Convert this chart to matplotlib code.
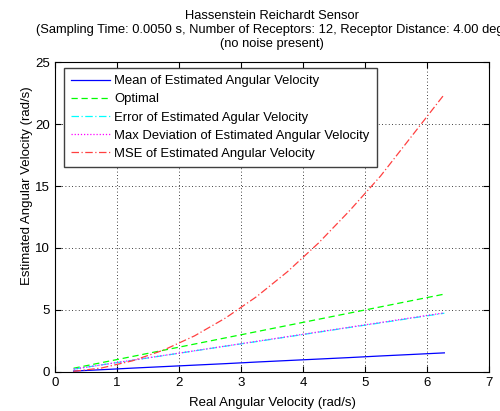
import matplotlib

matplotlib.use("Agg")
import matplotlib.pyplot as plt

# values
real_vel = [0.3, 0.75, 1.25, 1.75, 2.25, 2.75, 3.25, 3.75, 4.25, 4.75, 5.25, 5.75, 6.28]
mean_est = [0.07, 0.18, 0.31, 0.43, 0.55, 0.67, 0.80, 0.92, 1.04, 1.16, 1.29, 1.41, 1.54]
optimal = [0.3, 0.75, 1.25, 1.75, 2.25, 2.75, 3.25, 3.75, 4.25, 4.75, 5.25, 5.75, 6.28]
error_est = [0.23, 0.57, 0.94, 1.32, 1.70, 2.08, 2.45, 2.83, 3.21, 3.59, 3.96, 4.34, 4.74]
max_dev = [0.23, 0.57, 0.95, 1.33, 1.71, 2.09, 2.47, 2.85, 3.23, 3.61, 3.99, 4.37, 4.77]
mse_est = [0.05, 0.32, 0.90, 1.76, 2.91, 4.35, 6.07, 8.09, 10.4, 13.0, 15.8, 19.0, 22.4]

labels = [
    "Mean of Estimated Angular Velocity",
    "Optimal",
    "Error of Estimated Agular Velocity",
    "Max Deviation of Estimated Angular Velocity",
    "MSE of Estimated Angular Velocity",
]

plt.rcParams["font.family"] = ["Liberation Sans", "DejaVu Sans"]
plt.rcParams["font.size"] = 9

fig = plt.figure(figsize=(5.0, 4.11), dpi=100)
ax = fig.add_axes([0.11, 0.095, 0.868, 0.754])

ax.plot(real_vel, mean_est, color="#0000ff", lw=0.9, ls="-", label=labels[0])
ax.plot(real_vel, optimal, color="#00ff00", lw=0.9, ls=(0, (5, 3)), label=labels[1])
ax.plot(real_vel, error_est, color="#00ffff", lw=0.9, ls=(0, (6, 2, 1, 2)), label=labels[2])
ax.plot(real_vel, max_dev, color="#ff00ff", lw=0.9, ls=(0, (1, 1.5)), label=labels[3])
ax.plot(real_vel, mse_est, color="#ff4040", lw=0.9, ls=(0, (6, 2, 1, 2)), label=labels[4])

ax.set_xlim(0, 7)
ax.set_ylim(0, 25)
ax.set_xticks(range(0, 8))
ax.set_yticks(range(0, 26, 5))
ax.grid(True, color="black", ls=(0, (1, 3)), lw=0.6)
ax.tick_params(direction="in", top=True, right=True, length=4, labelsize=9.5)
for sp in ax.spines.values():
    sp.set_linewidth(0.8)

ax.set_xlabel("Real Angular Velocity (rad/s)", fontsize=9.5, labelpad=6)
ax.set_ylabel("Estimated Angular Velocity (rad/s)", fontsize=9.5)
ax.yaxis.set_label_coords(-0.05, 0.6)

fig.text(0.544, 0.962, "Hassenstein Reichardt Sensor", ha="center", va="center", fontsize=9.3)
fig.text(0.544, 0.927,
         "(Sampling Time: 0.0050 s, Number of Receptors: 12, Receptor Distance: 4.00 deg)",
         ha="center", va="center", fontsize=9.3)
fig.text(0.544, 0.892, "(no noise present)", ha="center", va="center", fontsize=9.3)

leg = ax.legend(loc="upper left", bbox_to_anchor=(0.021, 0.981), fontsize=9.4,
                fancybox=False, framealpha=1, edgecolor="#404040",
                handlelength=3.0, handletextpad=0.3, borderpad=0.55,
                labelspacing=0.46, borderaxespad=0)
leg.get_frame().set_linewidth(1.0)

fig.savefig("out.png", dpi=100)
